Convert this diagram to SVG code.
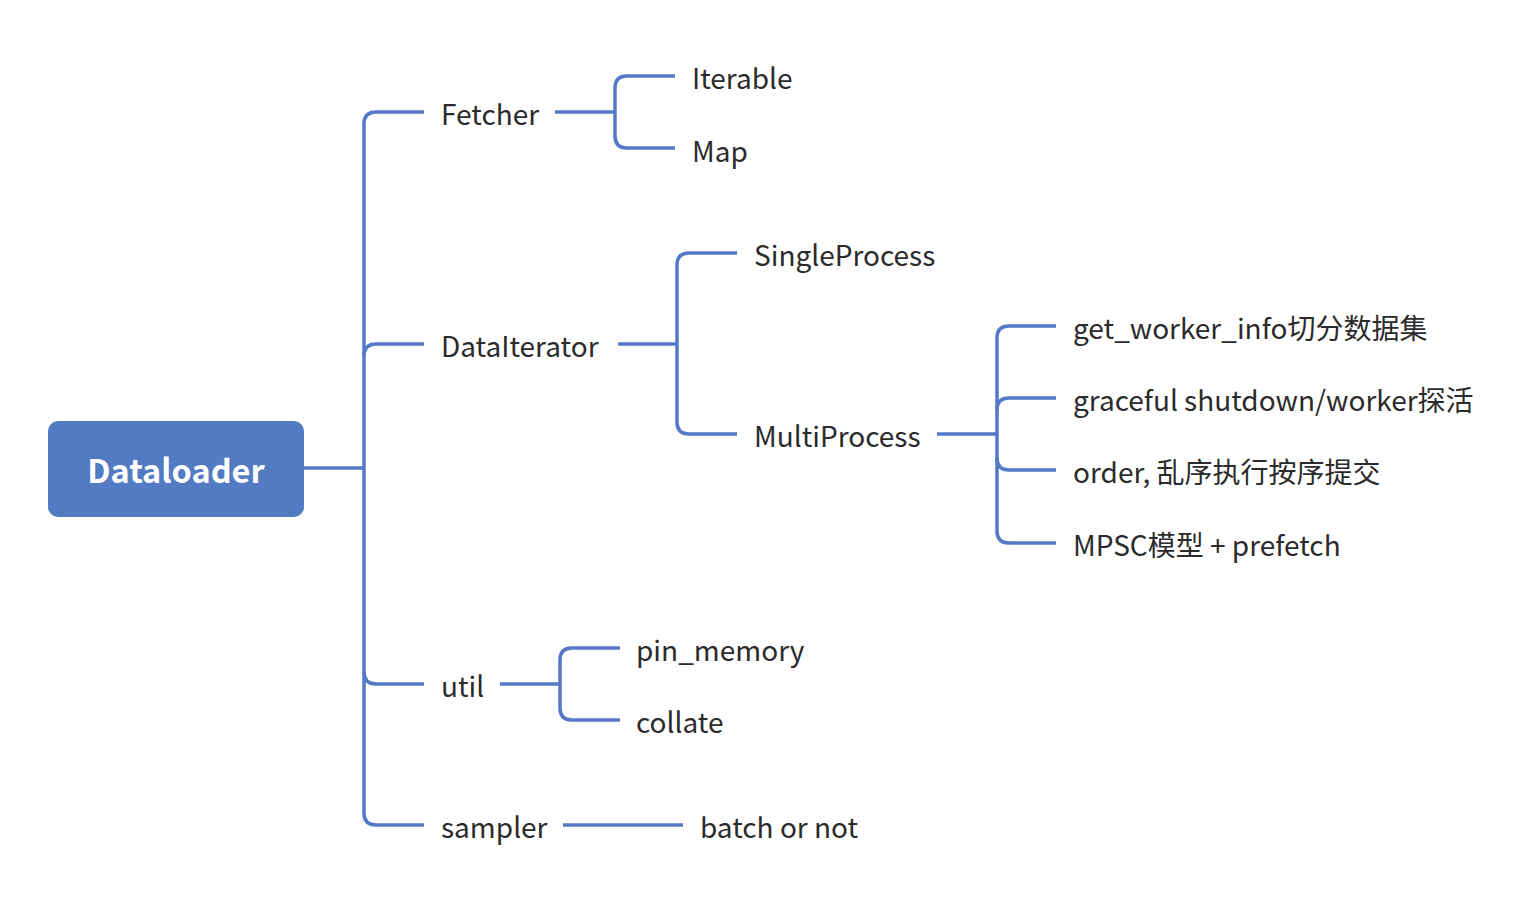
<svg xmlns="http://www.w3.org/2000/svg" width="1540" height="902" viewBox="0 0 1540 902">
<style>
.c{fill:none;stroke:#5479c6;stroke-width:3.5;stroke-linecap:butt;stroke-linejoin:round}
.t{font-family:"Noto Sans CJK SC","Noto Sans",sans-serif;font-size:28px;fill:#2b2b2b}
.r{font-family:"Noto Sans CJK SC","Noto Sans",sans-serif;font-size:32.5px;font-weight:bold;fill:#ffffff}
</style>
<rect width="1540" height="902" fill="#ffffff"/>
<g id="connectors">
<path class="c" d="M304,468 H364"/>
<path class="c" d="M424,112 H376 Q364,112 364,124 V813 Q364,825 376,825 H424"/>
<path class="c" d="M424,344 H376 Q364,344 364,356"/>
<path class="c" d="M424,684 H376 Q364,684 364,672"/>
<path class="c" d="M555,112 H615"/>
<path class="c" d="M675,76 H627 Q615,76 615,88 V136 Q615,148 627,148 H675"/>
<path class="c" d="M618,344 H677"/>
<path class="c" d="M737,253 H689 Q677,253 677,265 V422 Q677,434 689,434 H737"/>
<path class="c" d="M937,434 H997"/>
<path class="c" d="M1056,326 H1009 Q997,326 997,338 V531 Q997,543 1009,543 H1056"/>
<path class="c" d="M1056,398 H1009 Q997,398 997,410"/>
<path class="c" d="M1056,470 H1009 Q997,470 997,458"/>
<path class="c" d="M500,684 H560"/>
<path class="c" d="M620,648 H572 Q560,648 560,660 V708 Q560,720 572,720 H620"/>
<path class="c" d="M563,825 H683"/>
</g>
<g id="root"><rect x="48" y="421" width="256" height="96" rx="10" fill="#537bc4"/><text class="r" x="176" y="483" text-anchor="middle">Dataloader</text></g>
<g id="fetcher"><text class="t" x="441" y="125">Fetcher</text></g>
<g id="iterable"><text class="t" x="692" y="89">Iterable</text></g>
<g id="map"><text class="t" x="692" y="162">Map</text></g>
<g id="dataiterator"><text class="t" x="441" y="357">DataIterator</text></g>
<g id="singleprocess"><text class="t" x="754" y="266">SingleProcess</text></g>
<g id="multiprocess"><text class="t" x="754" y="447">MultiProcess</text></g>
<g id="getworkerinfo"><text class="t" x="1073" y="339">get_worker_info切分数据集</text></g>
<g id="graceful"><text class="t" x="1073" y="411">graceful shutdown/worker探活</text></g>
<g id="order"><text class="t" x="1073" y="483">order, 乱序执行按序提交</text></g>
<g id="mpsc"><text class="t" x="1073" y="556">MPSC模型 + prefetch</text></g>
<g id="util"><text class="t" x="441" y="697">util</text></g>
<g id="pinmemory"><text class="t" x="636" y="661">pin_memory</text></g>
<g id="collate"><text class="t" x="636" y="733">collate</text></g>
<g id="sampler"><text class="t" x="441" y="838">sampler</text></g>
<g id="batchornot"><text class="t" x="700" y="838">batch or not</text></g>
</svg>
